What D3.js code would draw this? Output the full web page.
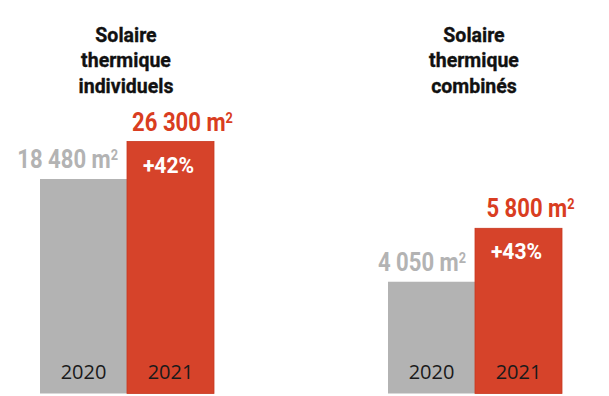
<!DOCTYPE html>
<html>
<head>
<meta charset="utf-8">
<script src="https://cdn.jsdelivr.net/npm/d3@7"></script>
<style>
  body { margin: 0; background: #fff; }
  .bold { font-family: Roboto, "Liberation Sans", sans-serif; font-weight: bold; }
  .year { font-family: "Open Sans", sans-serif; }
</style>
</head>
<body>
<svg id="chart" width="609" height="396"></svg>
<script>
const panels = ['individuels', 'combinés'];
const titleLines = [
  ['Solaire', 'thermique', 'individuels'],
  ['Solaire', 'thermique', 'combinés']
];
const years = ['2020', '2021'];
const values2020 = [18480, 4050];
const values2021 = [26300, 5800];
const growth = ['+42%', '+43%'];

const grey = '#b3b3b3';
const red = '#d6432a';
const redText = '#d93d21';

const svg = d3.select('#chart');
const baseline = 393.5;

const fmt = d3.formatLocale({ decimal: ',', thousands: ' ', grouping: [3], currency: ['', ''] }).format(',');

// condensed bold text, drawn by squeezing horizontally around its anchor point
function narrow(parent, x, y, size, anchor, fill, squeeze) {
  return parent.append('g')
    .attr('transform', `translate(${x},${y}) scale(${squeeze},1)`)
    .append('text')
    .attr('class', 'bold')
    .attr('font-size', size)
    .attr('text-anchor', anchor)
    .attr('fill', fill);
}

const xPanel = d3.scaleBand()
  .domain(panels)
  .range([40, 562])
  .paddingInner(0.5)
  .paddingOuter(0);

// each panel has its own vertical scale (the original is not drawn from zero)
const yFloors = [-26250, 390];
const yTops = [141.5, 228.3];

panels.forEach((p, i) => {
  const vals = [values2020[i], values2021[i]];
  const g = svg.append('g').attr('transform', `translate(${xPanel(p)},0)`);
  const w = xPanel.bandwidth();

  const x = d3.scaleBand().domain(years).range([0, w]).padding(0);
  const y = d3.scaleLinear()
    .domain([yFloors[i], d3.max(vals)])
    .range([baseline, yTops[i]]);

  // title
  titleLines[i].forEach((line, k) => {
    narrow(g, w / 2 - 1, 41.7 + k * 25.5, 21, 'middle', '#111', 0.93)
      .attr('stroke', '#111').attr('stroke-width', 0.35)
      .text(line);
  });

  // bars
  g.selectAll('.bar')
    .data(years)
    .enter().append('rect')
    .attr('class', 'bar')
    .attr('x', d => x(d))
    .attr('y', (d, k) => y(vals[k]))
    .attr('width', x.bandwidth())
    .attr('height', (d, k) => baseline - y(vals[k]))
    .attr('fill', (d, k) => k === 0 ? grey : red)
    .attr('stroke', (d, k) => k === 0 ? 'none' : '#c9371e')
    .attr('stroke-width', 0.8);

  // value labels
  years.forEach((yr, k) => {
    const t = k === 0
      ? narrow(g, x(yr) + x.bandwidth() - 9, y(vals[k]) - 11, 26, 'end', grey, 0.85)
      : narrow(g, x(yr) + x.bandwidth() / 2 + 12, y(vals[k]) - 11, 26, 'middle', redText, 0.85);
    t.append('tspan').text(fmt(vals[k]) + ' m');
    t.append('tspan').attr('font-size', 15).attr('dy', -8).text('2');
  });

  // growth label
  narrow(g, x(years[1]) + x.bandwidth() / 2 - 2, y(vals[1]) + 31, 21.5, 'middle', '#fff', 0.98)
    .text(growth[i]);

  // years
  g.selectAll('.year')
    .data(years)
    .enter().append('text')
    .attr('class', 'year')
    .attr('text-anchor', 'middle')
    .attr('font-size', 20)
    .attr('fill', '#1a1a1a')
    .attr('x', d => x(d) + x.bandwidth() / 2)
    .attr('y', 379)
    .text(d => d);
});
</script>
</body>
</html>
